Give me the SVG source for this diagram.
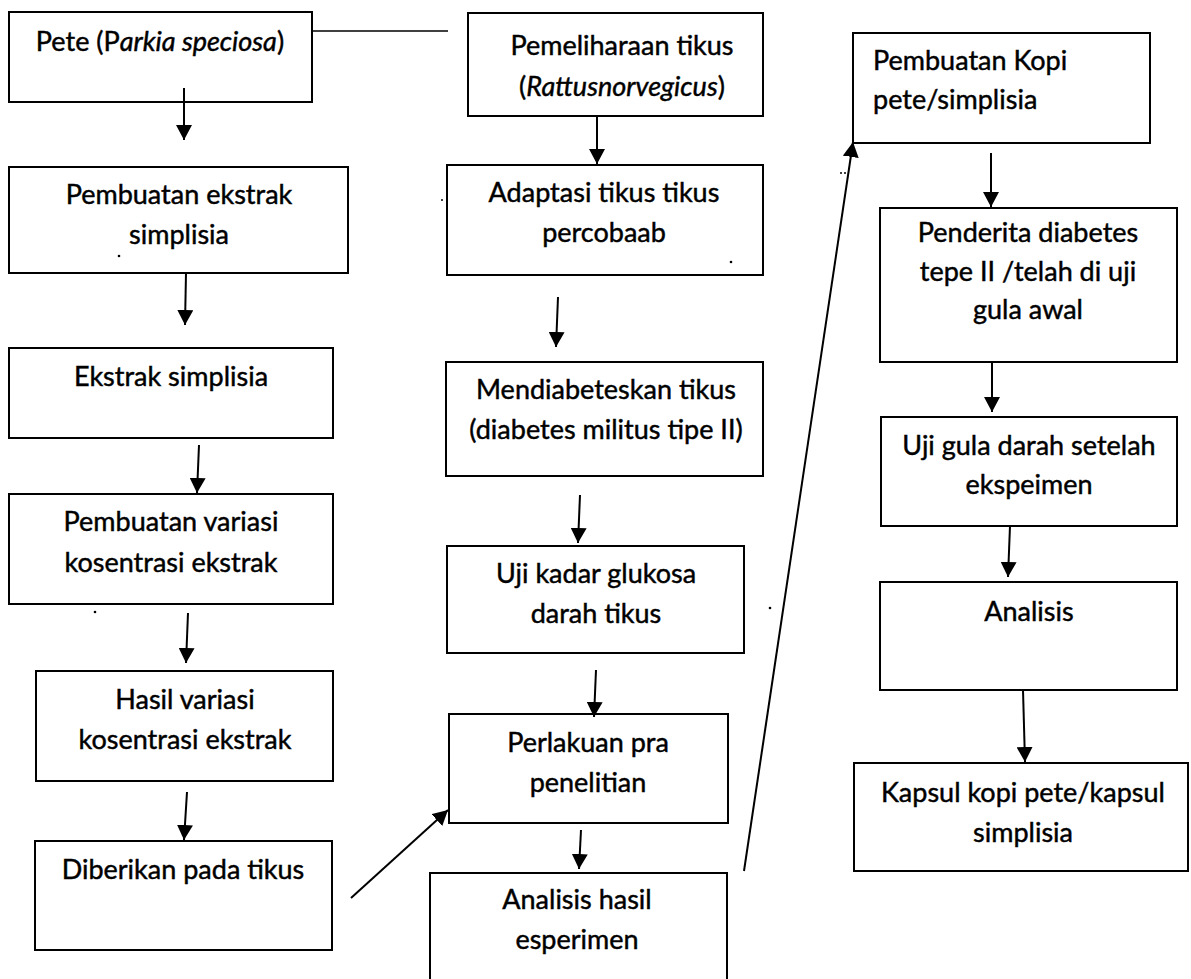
<svg xmlns="http://www.w3.org/2000/svg" width="1191" height="979" viewBox="0 0 1191 979">
<style>
.box{fill:#fff;stroke:#000;stroke-width:2}
.t{font-family:Lato,"Open Sans",sans-serif;font-size:27px;fill:#000;stroke:#000;stroke-width:0.45;text-anchor:middle}
.tl{text-anchor:start}
.i{font-style:italic}
.c{stroke:#000;stroke-width:2;fill:none;marker-end:url(#ah)}
.p{stroke:#000;stroke-width:1.6;fill:none}
.dot{fill:#000}
</style>
<defs>
<marker id="ah" markerUnits="userSpaceOnUse" markerWidth="16" markerHeight="16" refX="15" refY="8" orient="auto">
<path d="M0,0 L15,8 L0,16 z" fill="#000"/>
</marker>
</defs>
<rect width="1191" height="979" fill="#fff"/>
<g id="n1"><rect class="box" x="9" y="12" width="303" height="90"/><text class="t" x="160" y="51">Pete (P<tspan class="i">arkia speciosa</tspan>)</text></g>
<g id="n2"><rect class="box" x="9" y="167" width="339" height="106"/><text class="t" x="179" y="204">Pembuatan ekstrak</text><text class="t" x="179" y="244">simplisia</text></g>
<g id="n3"><rect class="box" x="9" y="348" width="324" height="90"/><text class="t" x="171" y="386">Ekstrak simplisia</text></g>
<g id="n4"><rect class="box" x="9" y="494" width="324" height="110"/><text class="t" x="171" y="531">Pembuatan variasi</text><text class="t" x="171" y="572">kosentrasi ekstrak</text></g>
<g id="n5"><rect class="box" x="36" y="671" width="297" height="110"/><text class="t" x="185" y="709">Hasil variasi</text><text class="t" x="185" y="749">kosentrasi ekstrak</text></g>
<g id="n6"><rect class="box" x="35" y="841" width="297" height="109"/><text class="t" x="183" y="879">Diberikan pada tikus</text></g>
<g id="n7"><rect class="box" x="468" y="13" width="295" height="103"/><text class="t" x="622" y="55">Pemeliharaan tikus</text><text class="t" x="622" y="96">(<tspan class="i">Rattusnorvegicus</tspan>)</text></g>
<g id="n8"><rect class="box" x="447" y="165" width="316" height="110"/><text class="t" x="604" y="202">Adaptasi tikus tikus</text><text class="t" x="604" y="242">percobaab</text></g>
<g id="n9"><rect class="box" x="446" y="362" width="317" height="114"/><text class="t" x="606" y="399">Mendiabeteskan tikus</text><text class="t" x="606" y="439">(diabetes militus tipe II)</text></g>
<g id="n10"><rect class="box" x="447" y="546" width="297" height="107"/><text class="t" x="596" y="583">Uji kadar glukosa</text><text class="t" x="596" y="623">darah tikus</text></g>
<g id="n11"><rect class="box" x="449" y="714" width="279" height="109"/><text class="t" x="588" y="752">Perlakuan pra</text><text class="t" x="588" y="792">penelitian</text></g>
<g id="n12"><rect class="box" x="430" y="873" width="297" height="120"/><text class="t" x="577" y="909">Analisis hasil</text><text class="t" x="577" y="949">esperimen</text></g>
<g id="n13"><rect class="box" x="853" y="33" width="297" height="110"/><text class="t tl" x="873" y="70">Pembuatan Kopi</text><text class="t tl" x="873" y="109">pete/simplisia</text></g>
<g id="n14"><rect class="box" x="880" y="208" width="297" height="154"/><text class="t" x="1028" y="242">Penderita diabetes</text><text class="t" x="1028" y="281">tepe II /telah di uji</text><text class="t" x="1028" y="319">gula awal</text></g>
<g id="n15"><rect class="box" x="881" y="417" width="296" height="109"/><text class="t" x="1029" y="455">Uji gula darah setelah</text><text class="t" x="1029" y="494">ekspeimen</text></g>
<g id="n16"><rect class="box" x="880" y="582" width="297" height="108"/><text class="t" x="1029" y="621">Analisis</text></g>
<g id="n17"><rect class="box" x="854" y="763" width="334" height="108"/><text class="t" x="1023" y="802">Kapsul kopi pete/kapsul</text><text class="t" x="1023" y="842">simplisia</text></g>
<g id="connectors">
<line class="p" x1="312" y1="31" x2="448" y2="31"/>
<line class="c" x1="184" y1="88" x2="184" y2="140"/>
<line class="c" x1="186" y1="273" x2="185" y2="325"/>
<line class="c" x1="199" y1="445" x2="197" y2="493"/>
<line class="c" x1="188" y1="613" x2="186" y2="663"/>
<line class="c" x1="187" y1="792" x2="184" y2="840"/>
<line class="c" x1="351" y1="898" x2="448" y2="810"/>
<line class="c" x1="597" y1="116" x2="597" y2="164"/>
<line class="c" x1="558" y1="297" x2="556" y2="347"/>
<line class="c" x1="580" y1="495" x2="578" y2="543"/>
<line class="c" x1="596" y1="670" x2="594" y2="717"/>
<line class="c" x1="581" y1="830" x2="579" y2="869"/>
<line class="c" x1="744" y1="871" x2="853" y2="142"/>
<line class="c" x1="991" y1="153" x2="991" y2="207"/>
<line class="c" x1="992" y1="362" x2="992" y2="412"/>
<line class="c" x1="1010" y1="526" x2="1008" y2="577"/>
<line class="c" x1="1023" y1="690" x2="1025" y2="762"/>
</g>
<g id="specks">
<circle class="dot" cx="119" cy="256" r="1.3"/>
<circle class="dot" cx="95" cy="612" r="1.3"/>
<circle class="dot" cx="731" cy="262" r="1.3"/>
<circle class="dot" cx="770" cy="608" r="1.3"/>
<circle class="dot" cx="841" cy="173" r="1"/>
<circle class="dot" cx="845" cy="173" r="1"/>
<circle class="dot" cx="442" cy="200" r="1"/>
</g>
</svg>
